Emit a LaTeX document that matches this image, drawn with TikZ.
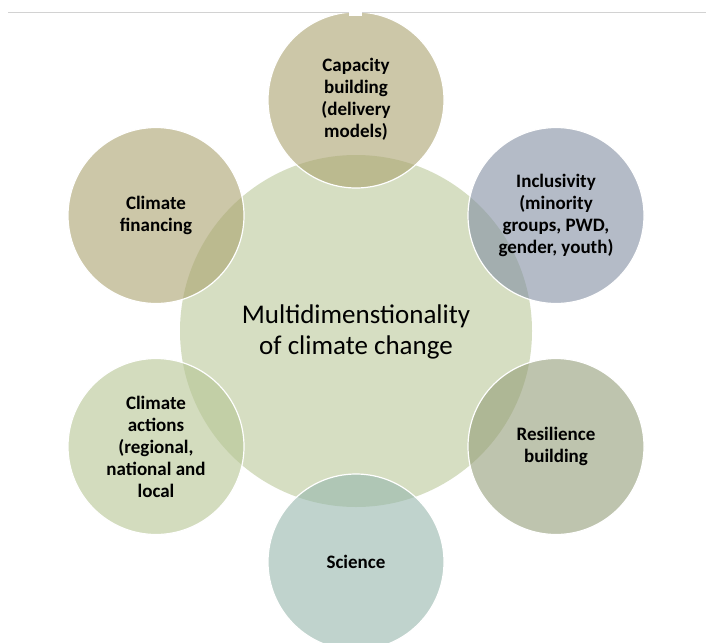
\documentclass[tikz,border=0pt]{standalone}
\usepackage{fontspec}
\setmainfont{Carlito}
\begin{document}
\definecolor{hubfill}{HTML}{D6DEC2}
\definecolor{khaki}{HTML}{AAA26E}
\definecolor{slateblue}{HTML}{828FA3}
\definecolor{sage}{HTML}{949D78}
\definecolor{teal}{HTML}{96B7AD}
\definecolor{leaf}{HTML}{B6C594}
\definecolor{rulegray}{HTML}{D2D2D2}
\begin{tikzpicture}[x=1pt,y=-1pt,
  hub/.style={circle,minimum size=352pt,inner sep=0pt,fill=hubfill},
  petal/.style={circle,minimum size=176pt,inner sep=0pt,fill=#1,fill opacity=0.6,
    draw=white,draw opacity=1,line width=1.2pt},
  petaltext/.style={align=center,font=\fontsize{19}{22}\selectfont\bfseries,text=black},
  hubtext/.style={align=center,font=\fontsize{27}{31}\selectfont,text=black}]
\useasboundingbox (0,0) rectangle (706,642);
\fill[white] (0,0) rectangle (706,642);

% central circle
\node[hub] (hub) at (356,331) {};

% surrounding circles, 231pt from the centre at 60 degree steps
\node[petal=khaki]     (cap) at (356,100) {};
\node[petal=slateblue] (inc) at (556,215.5) {};
\node[petal=sage]      (res) at (556,446.5) {};
\node[petal=teal]      (sci) at (356,562) {};
\node[petal=leaf]      (act) at (156,446.5) {};
\node[petal=khaki]     (fin) at (156,215.5) {};

% labels
\node[hubtext] (hubt) at (hub.center) [yshift=-1pt] {Multidimenstionality\\of climate change};
\node[petaltext] at (cap.center) [yshift=1pt] {Capacity\\building\\(delivery\\models)};
\node[petaltext] at (inc.center) {Inclusivity\\(minority\\groups, PWD,\\gender, youth)};
\node[petaltext] at (res.center) {Resilience\\building};
\node[petaltext] at (sci.center) {Science};
\node[petaltext] at (act.center) {Climate\\actions\\(regional,\\national and\\local};
\node[petaltext] at (fin.center) {Climate\\financing};

% rule across the top with a small gap
\coordinate (ruleL) at (8,12.5);
\coordinate (ruleR) at (706,12.5);
\draw[rulegray,line width=1.6pt] (ruleL) -- (ruleR);
\fill[white] (349,11) rectangle (362,16);
\end{tikzpicture}
\end{document}
